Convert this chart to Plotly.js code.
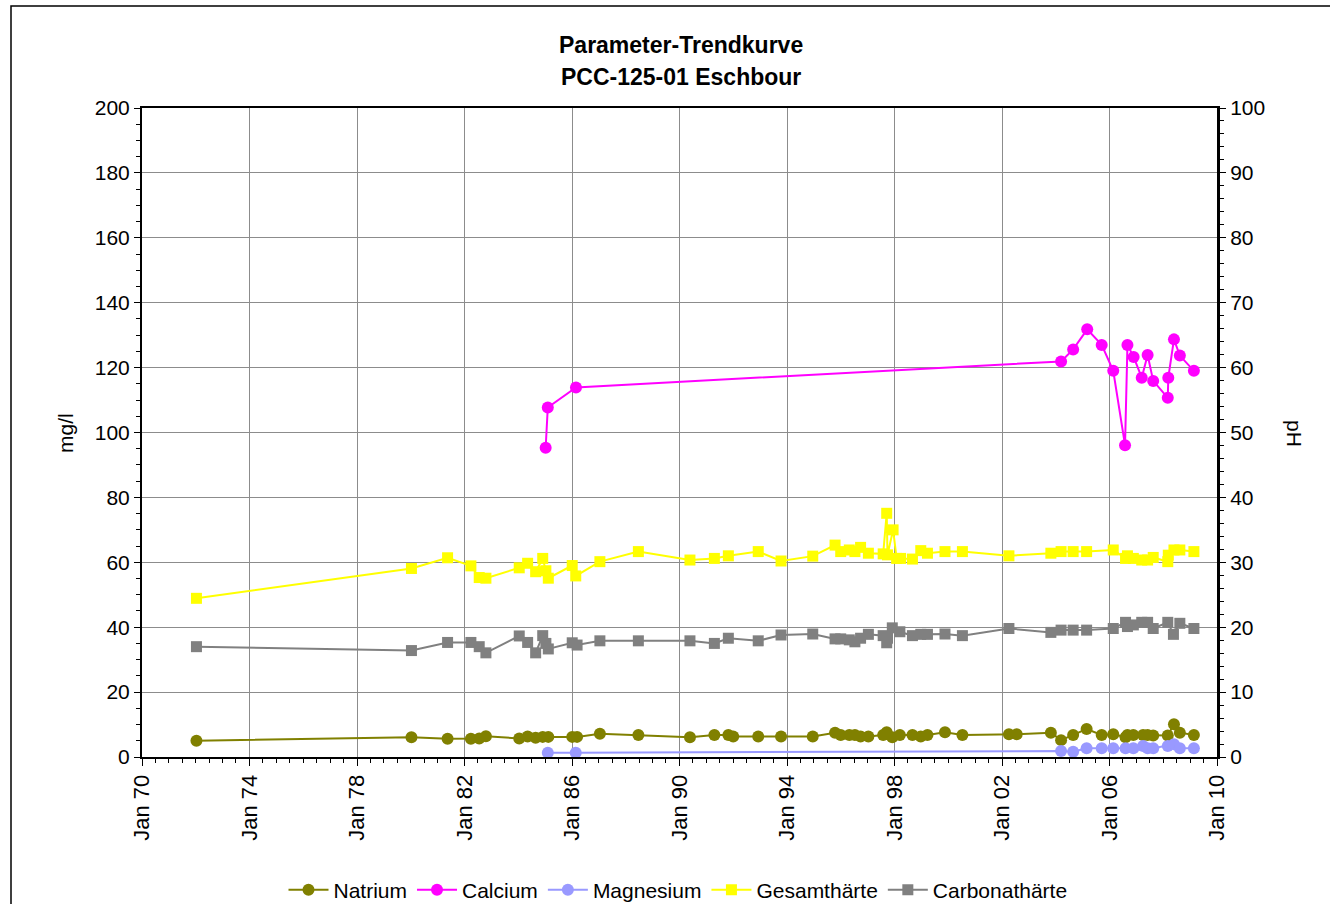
<!DOCTYPE html>
<html>
<head>
<meta charset="utf-8">
<script src="https://cdn.plot.ly/plotly-3.0.1.min.js"></script>
<style>
  html, body { margin: 0; padding: 0; background: #ffffff; }
  #chart { width: 1330px; height: 904px; }
</style>
</head>
<body>
<div id="chart"></div>
<script>
// ---- Data (dates as decimal years, values in mg/l) ----
const natriumX = [1972.03, 1980.03, 1981.37, 1982.24, 1982.55, 1982.8, 1984.04, 1984.35, 1984.65, 1984.91, 1985.12, 1986.01, 1986.19, 1987.04, 1988.47, 1990.39, 1991.3, 1991.82, 1992.0, 1992.93, 1993.78, 1994.96, 1995.79, 1996.0, 1996.32, 1996.53, 1996.74, 1997.03, 1997.58, 1997.71, 1997.92, 1998.2, 1998.67, 1998.98, 1999.23, 1999.88, 2000.53, 2002.26, 2002.55, 2003.82, 2004.2, 2004.65, 2005.15, 2005.71, 2006.14, 2006.6, 2006.67, 2006.89, 2007.25, 2007.42, 2007.63, 2008.17, 2008.4, 2008.62, 2009.14];
const natriumY = [5.0, 6.1, 5.6, 5.6, 5.7, 6.4, 5.7, 6.3, 5.9, 6.2, 6.2, 6.2, 6.2, 7.2, 6.8, 6.1, 6.8, 6.8, 6.3, 6.3, 6.3, 6.3, 7.5, 6.8, 6.8, 6.8, 6.3, 6.3, 6.8, 7.6, 6.1, 6.8, 6.8, 6.3, 6.8, 7.6, 6.8, 7.0, 7.0, 7.5, 5.2, 6.8, 8.6, 6.8, 7.0, 6.1, 6.8, 6.8, 6.8, 6.8, 6.6, 6.6, 10.1, 7.5, 6.8];

const calciumX = [1985.02, 1985.1, 1986.15, 2004.2, 2004.65, 2005.17, 2005.71, 2006.14, 2006.58, 2006.67, 2006.9, 2007.2, 2007.42, 2007.63, 2008.17, 2008.19, 2008.4, 2008.62, 2009.14];
const calciumY = [95.3, 107.7, 113.9, 121.9, 125.6, 131.8, 127.0, 119.0, 96.1, 127.0, 123.3, 116.9, 123.9, 115.9, 110.7, 116.9, 128.7, 123.7, 119.0];

const magnesiumX = [1985.1, 1986.14, 2004.2, 2004.65, 2005.15, 2005.71, 2006.14, 2006.6, 2006.89, 2007.25, 2007.42, 2007.63, 2008.17, 2008.4, 2008.62, 2009.14];
const magnesiumY = [1.3, 1.3, 1.85, 1.6, 2.7, 2.7, 2.7, 2.7, 2.7, 3.4, 2.7, 2.7, 3.4, 3.9, 2.7, 2.7];

const gesamtX = [1972.03, 1980.03, 1981.37, 1982.24, 1982.55, 1982.8, 1984.04, 1984.35, 1984.65, 1984.91, 1985.03, 1985.12, 1986.01, 1986.14, 1987.04, 1988.47, 1990.39, 1991.3, 1991.82, 1992.93, 1993.78, 1994.96, 1995.79, 1996.0, 1996.32, 1996.53, 1996.74, 1997.03, 1997.58, 1997.71, 1997.74, 1997.95, 1998.08, 1998.23, 1998.67, 1998.98, 1999.23, 1999.88, 2000.53, 2002.26, 2003.82, 2004.2, 2004.65, 2005.15, 2006.14, 2006.6, 2006.67, 2006.89, 2007.2, 2007.42, 2007.63, 2008.17, 2008.19, 2008.4, 2008.62, 2009.14];
const gesamtY = [48.9, 58.1, 61.4, 58.9, 55.3, 55.1, 58.3, 59.7, 57.1, 61.2, 57.4, 55.1, 59.0, 55.8, 60.2, 63.3, 60.7, 61.2, 62.0, 63.3, 60.4, 61.9, 65.3, 63.3, 63.8, 63.3, 64.6, 62.8, 62.6, 75.1, 62.3, 70.0, 61.2, 61.2, 61.0, 63.6, 62.8, 63.3, 63.3, 62.0, 62.8, 63.3, 63.3, 63.3, 63.8, 61.2, 62.0, 61.2, 60.7, 60.7, 61.5, 60.2, 62.2, 63.8, 63.8, 63.3];

const carbonatX = [1972.03, 1980.03, 1981.37, 1982.24, 1982.55, 1982.8, 1984.04, 1984.35, 1984.65, 1984.91, 1985.03, 1985.12, 1986.01, 1986.19, 1987.04, 1988.47, 1990.39, 1991.3, 1991.82, 1992.93, 1993.78, 1994.96, 1995.79, 1996.0, 1996.32, 1996.53, 1996.74, 1997.03, 1997.58, 1997.71, 1997.74, 1997.92, 1998.2, 1998.67, 1998.98, 1999.23, 1999.88, 2000.53, 2002.26, 2003.82, 2004.2, 2004.65, 2005.15, 2006.14, 2006.6, 2006.67, 2006.89, 2007.2, 2007.42, 2007.63, 2008.17, 2008.38, 2008.62, 2009.14];
const carbonatY = [34.0, 32.8, 35.3, 35.3, 34.0, 32.1, 37.3, 35.3, 32.1, 37.4, 35.0, 33.3, 35.2, 34.5, 35.8, 35.8, 35.8, 35.0, 36.6, 35.8, 37.6, 37.9, 36.4, 36.4, 36.1, 35.5, 36.6, 37.8, 37.4, 35.2, 36.6, 39.8, 38.6, 37.4, 37.8, 37.8, 37.9, 37.4, 39.6, 38.4, 39.1, 39.1, 39.1, 39.6, 41.5, 40.2, 40.7, 41.5, 41.5, 39.6, 41.5, 37.8, 41.2, 39.6];

const seriesNames = ['Natrium', 'Calcium', 'Magnesium', 'Gesamthärte', 'Carbonathärte'];
const titleLines = ['Parameter-Trendkurve', 'PCC-125-01 Eschbour'];

// ---- helpers ----
function toDate(d) {
  const y = Math.floor(d);
  const a = Date.UTC(y, 0, 1), b = Date.UTC(y + 1, 0, 1);
  return new Date(a + (d - y) * (b - a)).toISOString().slice(0, 10);
}
const FONT = 'Liberation Sans, Arial, sans-serif';

function series(name, xs, ys, color, symbol, size) {
  return {
    type: 'scatter', mode: 'lines+markers', name: name,
    x: xs.map(toDate), y: ys,
    line: { color: color, width: 2 },
    marker: { color: color, symbol: symbol, size: size, line: { width: 0 } }
  };
}

const traces = [
  series(seriesNames[0], natriumX, natriumY, '#808000', 'circle', 12),
  series(seriesNames[1], calciumX, calciumY, '#FF00FF', 'circle', 12),
  series(seriesNames[2], magnesiumX, magnesiumY, '#9999FF', 'circle', 12),
  series(seriesNames[3], gesamtX, gesamtY, '#FFFF00', 'square', 11),
  series(seriesNames[4], carbonatX, carbonatY, '#808080', 'square', 11),
  { type: 'scatter', x: [null], y: [null], yaxis: 'y2', showlegend: false, hoverinfo: 'skip' }
];

const layout = {
  width: 1330, height: 904,
  margin: { l: 142, r: 113, t: 108, b: 147 },
  paper_bgcolor: '#ffffff', plot_bgcolor: '#ffffff',
  font: { family: FONT, size: 21, color: '#000000' },
  showlegend: true,
  legend: {
    orientation: 'h', xref: 'container', yref: 'container',
    x: 678 / 1330, xanchor: 'center', y: (904 - 890) / 904, yanchor: 'middle',
    font: { family: FONT, size: 21, color: '#000' }, itemwidth: 40, tracegroupgap: 0
  },
  xaxis: {
    type: 'date', range: ['1970-01-01', '2010-01-01'], automargin: false,
    tick0: '1970-01-01', dtick: 'M48', tickformat: '%b %y', tickangle: -90,
    showgrid: true, gridcolor: '#8c8c8c', gridwidth: 1,
    showline: true, linecolor: '#000', linewidth: 2, mirror: true,
    ticks: 'outside', ticklen: 7, tickcolor: '#000', tickwidth: 1,
    minor: { dtick: 'M6', ticks: 'outside', ticklen: 4, tickcolor: '#000', showgrid: false },
    zeroline: false, tickfont: { family: FONT, size: 22 }
  },
  yaxis: {
    range: [0, 200], dtick: 20, tick0: 0, automargin: false,
    showgrid: true, gridcolor: '#8c8c8c', gridwidth: 1,
    showline: true, linecolor: '#000', linewidth: 2,
    ticks: 'outside', ticklen: 6, tickcolor: '#000',
    minor: { dtick: 5, ticks: 'outside', ticklen: 4, tickcolor: '#000', showgrid: false },
    zeroline: false, tickfont: { family: FONT, size: 21 }
  },
  yaxis2: {
    overlaying: 'y', side: 'right', range: [0, 100], dtick: 10, tick0: 0, automargin: false,
    showgrid: false, showline: true, linecolor: '#000', linewidth: 3,
    ticks: 'outside', ticklen: 6, tickcolor: '#000',
    minor: { dtick: 2, ticks: 'outside', ticklen: 4, tickcolor: '#000', showgrid: false },
    zeroline: false, tickfont: { family: FONT, size: 21 }
  },
  annotations: [
    { text: '<b>' + titleLines[0] + '</b>', xref: 'paper', yref: 'paper', x: 0.501, y: (757 - 45) / 649,
      xanchor: 'center', yanchor: 'middle', showarrow: false, font: { family: FONT, size: 23, color: '#000' } },
    { text: '<b>' + titleLines[1] + '</b>', xref: 'paper', yref: 'paper', x: 0.501, y: (757 - 77) / 649,
      xanchor: 'center', yanchor: 'middle', showarrow: false, font: { family: FONT, size: 23, color: '#000' } },
    { text: 'mg/l', xref: 'paper', yref: 'paper', x: (65 - 142) / 1075, y: (757 - 433) / 649,
      xanchor: 'center', yanchor: 'middle', textangle: -90, showarrow: false, font: { family: FONT, size: 21, color: '#000' } },
    { text: 'pH', xref: 'paper', yref: 'paper', x: (1295 - 142) / 1075, y: (757 - 433) / 649,
      xanchor: 'center', yanchor: 'middle', textangle: 90, showarrow: false, font: { family: FONT, size: 21, color: '#000' } }
  ],
  shapes: [
    { type: 'rect', xref: 'paper', yref: 'paper',
      x0: (11 - 142) / 1075, x1: (1345 - 142) / 1075, y0: (757 - 920) / 649, y1: (757 - 6) / 649,
      line: { color: '#000', width: 1.5 }, fillcolor: 'rgba(0,0,0,0)', layer: 'below' }
  ]
};

Plotly.newPlot('chart', traces, layout, { displayModeBar: false, staticPlot: true });
</script>
</body>
</html>
